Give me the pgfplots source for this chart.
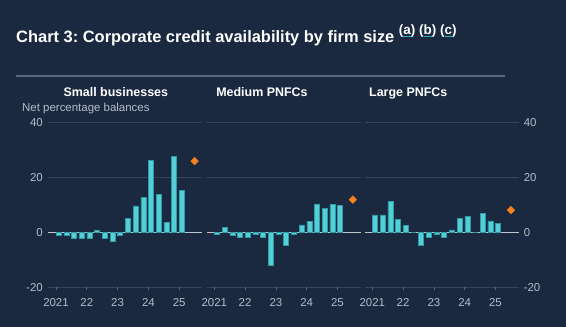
\documentclass[border=0pt]{standalone}
\usepackage{pgfplots}
\pgfplotsset{compat=1.18}
\usepackage{fontspec}
\setmainfont{Liberation Sans}
\frenchspacing
\definecolor{bg}{HTML}{1A2940}
\definecolor{gridc}{HTML}{34435A}
\definecolor{zeroc}{HTML}{BFC4CA}
\definecolor{tickc}{HTML}{B4BCC8}
\definecolor{barc}{HTML}{55CFD6}
\definecolor{bare}{HTML}{2E9BA6}
\definecolor{dotc}{HTML}{F5821F}
\definecolor{rulec}{HTML}{5A667C}
\definecolor{linkc}{HTML}{2FB3B8}
\newcommand\ul[1]{\begingroup\color{linkc}\underline{\color{white}#1}\endgroup}

\pgfplotsset{panel/.style={
  scale only axis, width=154bp, height=165bp,
  xmin=2020.75, xmax=2025.75, ymin=-20, ymax=40,
  axis line style={draw=none},
  xtick={2021,2022,2023,2024,2025}, xticklabels={2021,22,23,24,25},
  ytick={-20,20,40}, extra y ticks={0},
  ymajorgrids, grid style={gridc, line width=0.8bp},
  extra y tick style={grid style={zeroc, line width=1.1bp}},
  tick align=outside, major tick length=3bp,
  xtick pos=bottom,
  x tick style={rulec, line width=0.8bp},
  y tick style={draw=none},
  ticklabel style={font=\fontsize{11.5}{13}\selectfont, text=tickc},
  xticklabel style={inner sep=0pt, yshift=-7.5bp},
  /pgf/number format/assume math mode=true,
  clip=false,
}}
\pgfplotsset{bars/.style={ybar, bar width=5bp, fill=barc, draw=bare, line width=0.5bp},
  dia/.style={only marks, mark=square*, mark size=2.7bp, mark options={rotate=45, fill=dotc, draw=dotc}}}

\begin{document}
\begin{tikzpicture}
\fill[bg] (0,0) rectangle (566bp,-327bp);
\useasboundingbox (0,0) rectangle (566bp,-327bp);

\node[anchor=base west, inner sep=0pt, text=white, font=\bfseries\fontsize{16.5}{19}\selectfont] at (16bp,-42.3bp)
  {Chart 3: Corporate credit availability by firm size \raisebox{7.5bp}{\fontsize{13.5}{15}\selectfont (\ul{a}) (\ul{b}) (\ul{c})}};
\draw[rulec, line width=1.3bp] (16bp,-76bp) -- (505bp,-76bp);

\node[anchor=base, inner sep=0pt, text=white, font=\bfseries\fontsize{12.5}{14}\selectfont] at (115.8bp,-96.7bp) {Small businesses};
\node[anchor=base, inner sep=0pt, text=white, font=\bfseries\fontsize{12.5}{14}\selectfont] at (262bp,-96.7bp) {Medium PNFCs};
\node[anchor=base, inner sep=0pt, text=white, font=\bfseries\fontsize{12.5}{14}\selectfont] at (408.3bp,-96.7bp) {Large PNFCs};
\node[anchor=base west, inner sep=0pt, text=tickc, font=\fontsize{11.5}{13}\selectfont] at (22bp,-111.7bp) {Net percentage balances};

% Small businesses
\begin{axis}[panel, at={(48.3bp,-287.3bp)}, anchor=south west,
  yticklabel pos=left, yticklabel style={inner sep=0pt, xshift=-2.3bp}]
\addplot[bars] coordinates {
(2021.085,-1.1) (2021.335,-1.1) (2021.585,-2.0) (2021.835,-2.0)
(2022.085,-2.0) (2022.335,0.6) (2022.585,-2.2) (2022.835,-3.2)
(2023.085,-1.0) (2023.335,5.2) (2023.585,9.6) (2023.835,12.7)
(2024.085,26.2) (2024.335,13.8) (2024.585,3.5) (2024.835,27.5)
(2025.085,15.3)};
\addplot[dia] coordinates {(2025.5,25.9)};
\end{axis}

% Medium PNFCs
\begin{axis}[panel, at={(206.6bp,-287.3bp)}, anchor=south west,
  yticklabels={}, extra y tick labels={}]
\addplot[bars] coordinates {
(2021.085,-0.8) (2021.335,1.9) (2021.585,-0.9) (2021.835,-1.9)
(2022.085,-1.8) (2022.335,-0.8) (2022.585,-1.9) (2022.835,-12.0)
(2023.085,-0.8) (2023.335,-4.6) (2023.585,-0.8) (2023.835,2.7)
(2024.085,4.1) (2024.335,10.3) (2024.585,8.7) (2024.835,10.1)
(2025.085,9.9)};
\addplot[dia] coordinates {(2025.5,11.9)};
\end{axis}

% Large PNFCs
\begin{axis}[panel, at={(364.6bp,-287.3bp)}, anchor=south west,
  yticklabel pos=right, yticklabel style={inner sep=0pt, xshift=2bp}]
\addplot[bars] coordinates {
(2021.085,6.3) (2021.335,6.3) (2021.585,11.2) (2021.835,4.6)
(2022.085,2.5) (2022.335,0) (2022.585,-4.6) (2022.835,-1.8)
(2023.085,-0.8) (2023.335,-1.7) (2023.585,0.9) (2023.835,5.0)
(2024.085,5.7) (2024.335,0) (2024.585,7.0) (2024.835,4.2)
(2025.085,3.2)};
\addplot[dia] coordinates {(2025.5,8.1)};
\end{axis}
\end{tikzpicture}
\end{document}
